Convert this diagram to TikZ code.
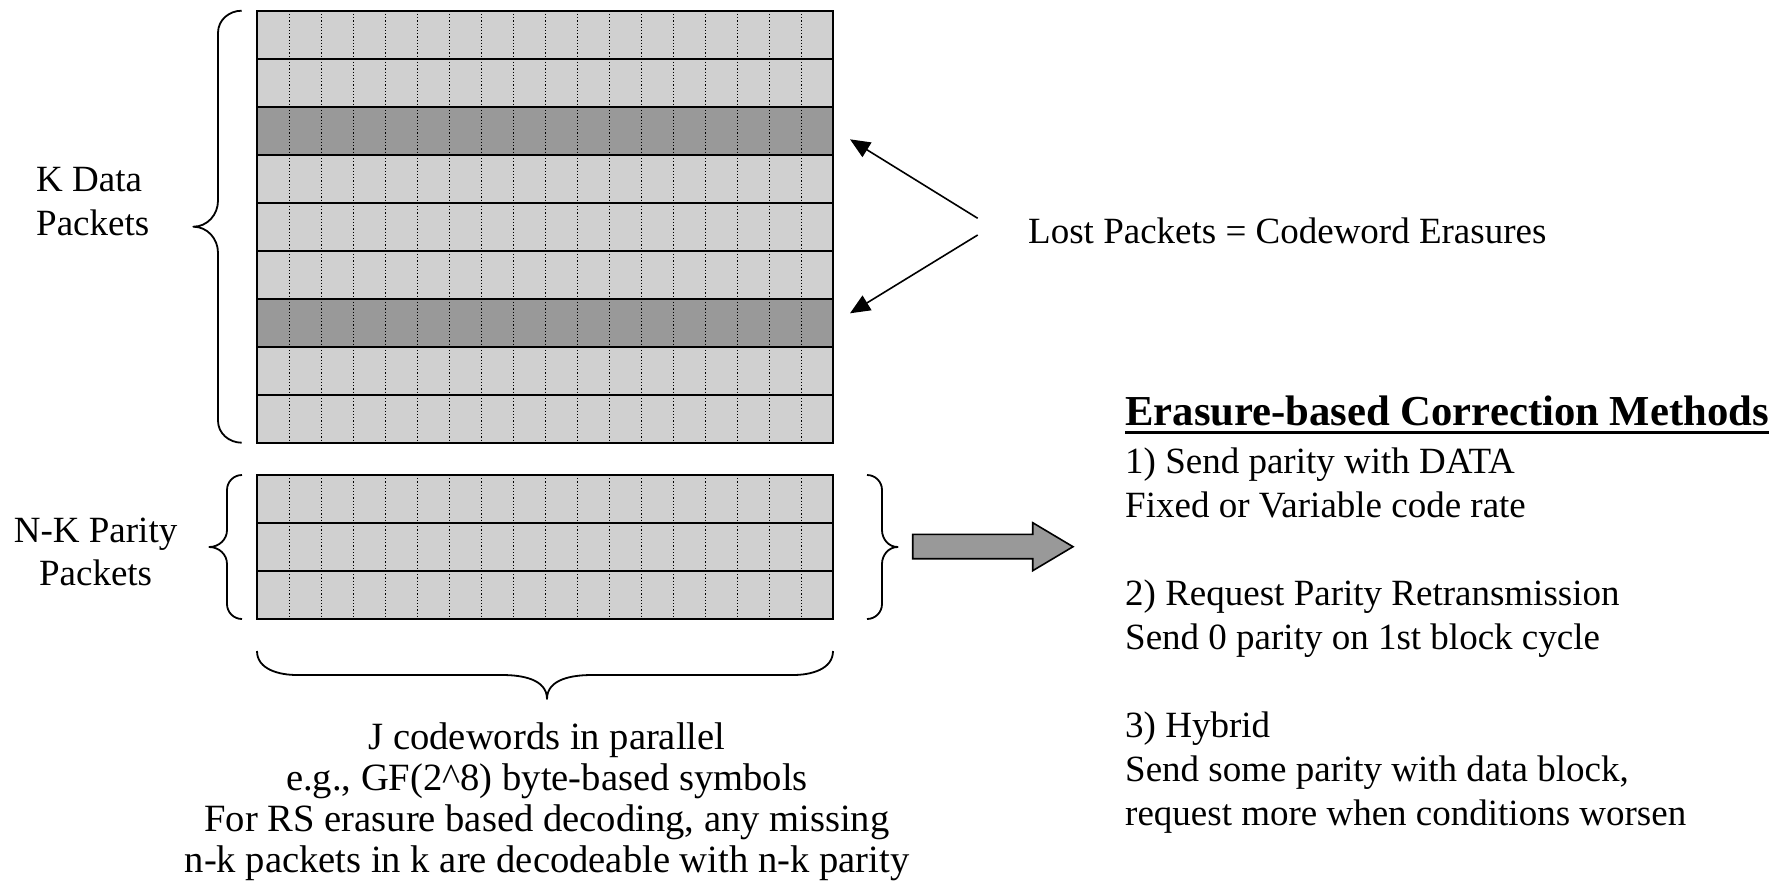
\documentclass[tikz,border=0pt]{standalone}
\usepackage{fontspec}
\setmainfont{Liberation Serif}
\usetikzlibrary{arrows.meta}
\definecolor{cLight}{RGB}{208,208,208}
\definecolor{cDark}{RGB}{153,153,153}
\begin{document}
\begin{tikzpicture}[x=1pt,y=-1pt,
  rowline/.style={draw=black,line width=1.8pt},
  dotline/.style={draw=black,line width=1pt,dash pattern=on 1.2pt off 2pt},
  bracepath/.style={draw=black,line width=1.8pt,line join=round},
  lostarrow/.style={draw=black,line width=1.6pt,-{Triangle[length=20pt,width=17pt]}},
  txt/.style={inner sep=0pt,font={\fontsize{37}{44.4}\selectfont}},
  ttl/.style={inner sep=0pt,font={\fontsize{42.7}{48}\selectfont\bfseries}}]
\useasboundingbox (0,0) rectangle (1785,892);
% ---------- data block ----------
\foreach \i in {0,...,8}{
  \fill[cLight] (257,10.7+48*\i) rectangle (833,58.7+48*\i);
}
\fill[cDark] (257,106.7) rectangle (833,154.7);
\fill[cDark] (257,298.7) rectangle (833,346.7);
\foreach \k in {1,...,17}{
  \draw[dotline] (257+32*\k,10.7) -- (257+32*\k,442.7);
}
\foreach \i in {0,...,8}{
  \draw[rowline] (257,10.7+48*\i) rectangle (833,58.7+48*\i);
}
% ---------- parity block ----------
\fill[cLight] (257,475) rectangle (833,619);
\foreach \k in {1,...,17}{
  \draw[dotline] (257+32*\k,475) -- (257+32*\k,619);
}
\foreach \i in {0,1,2}{
  \draw[rowline] (257,475+48*\i) rectangle (833,523+48*\i);
}
% ---------- braces ----------
\draw[bracepath] (241.7,10.7) to[out=180,in=90] (218,32.7) -- (218,200.7)
  to[out=-90,in=0] (193.3,226.7) to[out=0,in=90] (218,252.7) -- (218,420.7)
  to[out=-90,in=180] (241.7,442.7);
\draw[bracepath] (242,475) to[out=180,in=90] (227,490) -- (227,530)
  to[out=-90,in=0] (209.3,547) to[out=0,in=90] (227,564) -- (227,604)
  to[out=-90,in=180] (242,619);
\draw[bracepath] (867,475) to[out=0,in=90] (882,490) -- (882,530)
  to[out=-90,in=180] (897.7,547) to[out=180,in=90] (882,564) -- (882,604)
  to[out=-90,in=0] (867,619);
\draw[bracepath] (257,651) to[out=-90,in=180] (297,675) -- (502,675)
  to[out=0,in=90] (547,699) to[out=90,in=180] (592,675) -- (793,675)
  to[out=0,in=-90] (833,651);
% ---------- block arrow ----------
\draw[fill=cDark,line width=1.6pt,line join=miter]
  (912.7,534.3) -- (1032.7,534.3) -- (1032.7,522.7) -- (1073,546.7)
  -- (1032.7,570.7) -- (1032.7,558.7) -- (912.7,558.7) -- cycle;
% ---------- labels (multi-line nodes: base = last line) ----------
\node[txt,anchor=base west,align=left] (kdata) at (36,235.4) {K Data\\Packets};
\node[txt,anchor=base,align=center,font={\fontsize{37}{43.3}\selectfont}] (nkpar) at (95.6,585.3) {N-K Parity\\Packets};
\node[txt,anchor=base west] (lost) at (1028,243) {Lost Packets = Codeword Erasures};
\coordinate (lostA) at (977.7,218.3);
\coordinate (lostB) at (977.7,235);
\coordinate (tipA) at (850,139.3);
\coordinate (tipB) at (850,313.3);
\draw[lostarrow] (lostA) -- (tipA);
\draw[lostarrow] (lostB) -- (tipB);
\node[txt,anchor=base,align=center,font={\fontsize{38.6}{41.3}\selectfont}] (jcw) at (547,872.9)
  {J codewords in parallel\\e.g., GF(2\textasciicircum 8) byte-based symbols\\For RS erasure based decoding, any missing\\n-k packets in k are decodeable with n-k parity};
\node[ttl,anchor=base west] (title) at (1125,425) {Erasure-based Correction Methods};
\draw[line width=3pt] ([yshift=-7pt]title.base west) -- ([yshift=-7pt]title.base east);
\node[txt,anchor=base west,align=left,font={\fontsize{37}{44}\selectfont}] (methods) at (1125,825)
  {1) Send parity with DATA\\Fixed or Variable code rate\\[44pt]2) Request Parity Retransmission\\Send 0 parity on 1st block cycle\\[44pt]3) Hybrid\\Send some parity with data block,\\request more when conditions worsen};
\end{tikzpicture}
\end{document}
